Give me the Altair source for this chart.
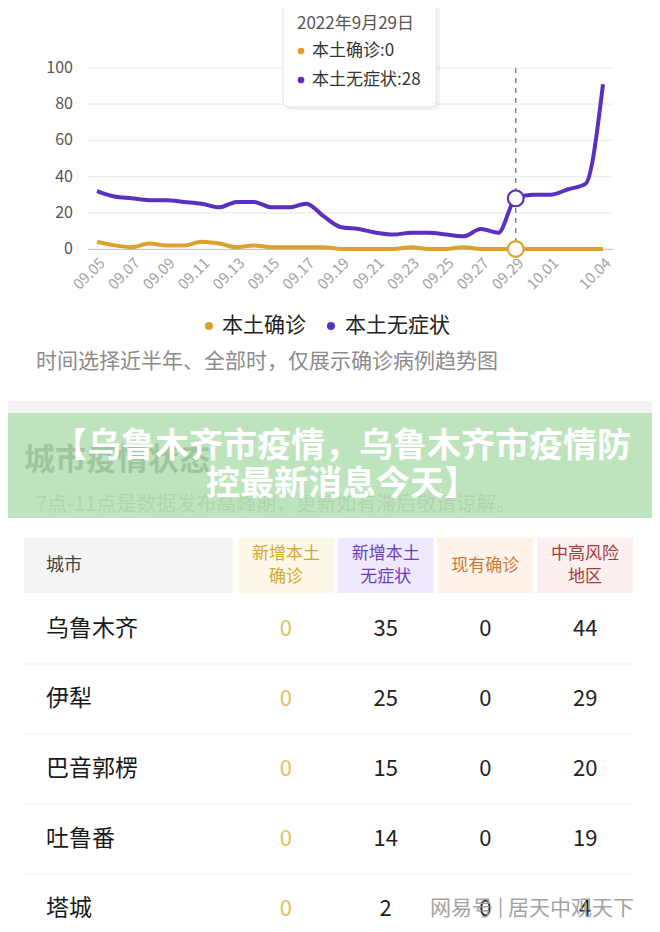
import altair as alt
import pandas as pd

# ------------------------------------------------------------------ data
dates = ["09.05", "09.06", "09.07", "09.08", "09.09", "09.10", "09.11", "09.12",
         "09.13", "09.14", "09.15", "09.16", "09.17", "09.18", "09.19", "09.20",
         "09.21", "09.22", "09.23", "09.24", "09.25", "09.26", "09.27", "09.28",
         "09.29", "09.30", "10.01", "10.02", "10.03", "10.04"]
confirmed = [4, 2, 1, 3, 2, 2, 4, 3, 1, 2, 1, 1, 1, 1, 0, 0, 0, 0, 1, 0,
             0, 1, 0, 0, 0, 0, 0, 0, 0, 0]
asymptomatic = [32, 29, 28, 27, 27, 26, 25, 23, 26, 26, 23, 23, 25, 18, 12, 11,
                9, 8, 9, 9, 8, 7, 11, 9, 28, 30, 30, 33, 36, 91]
series_names = ["本土确诊", "本土无症状"]
series_colors = ["#dca22c", "#5b2fc0"]
x_tick_labels = ["09.05", "09.07", "09.09", "09.11", "09.13", "09.15", "09.17",
                 "09.19", "09.21", "09.23", "09.25", "09.27", "09.29", "10.01", "10.04"]
y_ticks = [0, 20, 40, 60, 80, 100]
hover_date = "09.29"
tooltip_title = "2022年9月29日"
caption_text = "时间选择近半年、全部时，仅展示确诊病例趋势图"
section_title = "城市疫情状态"
section_note = "7点-11点是数据发布高峰期，更新如有滞后敬请谅解。"
banner_text = "【乌鲁木齐市疫情，乌鲁木齐市疫情防\n控最新消息今天】"
watermark_text = "网易号 | 居天中观天下"

city_header = "城市"
cities = ["乌鲁木齐", "伊犁", "巴音郭楞", "吐鲁番", "塔城"]
table_columns = ["新增本土确诊", "新增本土无症状", "现有确诊", "中高风险地区"]
header_labels = ["新增本土\n确诊", "新增本土\n无症状", "现有确诊", "中高风险\n地区"]
header_text_colors = ["#d4a82f", "#6b3fbf", "#c77a3c", "#a33b3f"]
header_bg_colors = ["#fdf8e8", "#f0e8fc", "#fdf3ea", "#fcefef"]
new_confirmed = [0, 0, 0, 0, 0]
new_asymptomatic = [35, 25, 15, 14, 2]
current_confirmed = [0, 0, 0, 0, 0]
risk_areas = [44, 29, 20, 19, 4]

FONT = "Noto Sans CJK SC"
OX, OY = 88, 68          # page position of the plot origin
W, H = 524, 181


def px(x):
    return x - OX


def py(y):
    return y - OY


def one():
    return pd.DataFrame({"k": [0]})


def rect(x, x2, y, y2, **kw):
    return alt.Chart(one()).mark_rect(**kw).encode(
        x=alt.value(px(x)), x2=alt.value(px(x2)), y=alt.value(py(y)), y2=alt.value(py(y2)))


def label(txt, x, y, **kw):
    kw.setdefault("font", FONT)
    kw.setdefault("baseline", "middle")
    return alt.Chart(pd.DataFrame({"t": [txt]})).mark_text(**kw).encode(
        x=alt.value(px(x)), y=alt.value(py(y)), text="t:N")


def dot(x, y, color, size=55):
    return alt.Chart(one()).mark_point(shape="circle", filled=True, size=size,
                                        color=color, opacity=1).encode(
        x=alt.value(px(x)), y=alt.value(py(y)))


# ------------------------------------------------------------------ line chart
line_df = pd.DataFrame({
    "date": dates * 2,
    "value": confirmed + asymptomatic,
    "series": [series_names[0]] * len(dates) + [series_names[1]] * len(dates),
})
tick_df = pd.DataFrame({"tick": y_ticks, "tick_label": [str(t) for t in y_ticks]})

x_scale = alt.Scale(type="point", padding=0.516)
y_scale = alt.Scale(domain=[0, 100], nice=False)
xenc = alt.X("date:O", sort=dates, scale=x_scale,
             axis=alt.Axis(values=x_tick_labels, labelAngle=315, labelColor="#a3a3a3",
                           labelFontSize=15, labelFont=FONT, labelPadding=6,
                           ticks=False, domainColor="#a0a0a0", domainWidth=1.2,
                           grid=False, title=None, labelOverlap=False))
colenc = alt.Color("series:N", scale=alt.Scale(domain=series_names, range=series_colors),
                   legend=None)

grid = alt.Chart(tick_df).mark_rule(color="#ebebeb", strokeWidth=1.2).encode(
    y=alt.Y("tick:Q", scale=y_scale, axis=None),
    x=alt.value(0), x2=alt.value(W))
y_labels = alt.Chart(tick_df).mark_text(
    font=FONT, fontSize=16, color="#555555", align="right", baseline="middle").encode(
    y=alt.Y("tick:Q", scale=y_scale, axis=None),
    x=alt.value(-15), text="tick_label:N")
lines = alt.Chart(line_df).mark_line(interpolate="monotone", strokeWidth=4).encode(
    x=xenc, y=alt.Y("value:Q", scale=y_scale, axis=None), color=colenc)
hover_rule = alt.Chart(pd.DataFrame({"date": [hover_date]})).mark_rule(
    strokeDash=[5, 5], color="#8c8c8c", strokeWidth=1.5).encode(
    x=alt.X("date:O", sort=dates),
    y=alt.value(0), y2=alt.value(H))
hover_pts = alt.Chart(line_df).transform_filter(
    alt.datum.date == hover_date).mark_point(
    shape="circle", fill="white", fillOpacity=1, opacity=1, size=250, strokeWidth=2.2).encode(
    x=alt.X("date:O", sort=dates),
    y=alt.Y("value:Q", scale=y_scale, axis=None),
    color=colenc)

chart_layer = alt.layer(grid, y_labels, lines, hover_rule, hover_pts)

# ------------------------------------------------------------------ tooltip, legend, caption
i_hover = dates.index(hover_date)
tooltip_parts = [
    rect(286, 440, -10, 110, fill="#000000", opacity=0.05, cornerRadius=6),
    rect(283, 436, -10, 107, fill="white", stroke="#e4e4e4", strokeWidth=1, cornerRadius=5),
    label(tooltip_title, 297, 24, align="left", fontSize=17, color="#555555"),
    dot(301, 51, series_colors[0], 45),
    label(f"{series_names[0]}:{confirmed[i_hover]}", 312, 51, align="left",
          fontSize=17, color="#333333"),
    dot(301, 80, series_colors[1], 45),
    label(f"{series_names[1]}:{asymptomatic[i_hover]}", 312, 80, align="left",
          fontSize=17, color="#333333"),
]

legend_parts = [
    dot(209, 326, series_colors[0], 65),
    label(series_names[0], 222, 326, align="left", fontSize=21, color="#222222"),
    dot(331, 326, series_colors[1], 65),
    label(series_names[1], 345, 326, align="left", fontSize=21, color="#222222"),
    label(caption_text, 36, 362, align="left", fontSize=21, color="#8c8c8c"),
]

banner_parts = [
    rect(0, 660, 401, 413, fill="#f3f3f3"),
    label(section_title, 24, 461, align="left", fontSize=31, fontWeight="bold", color="#333333"),
    label(section_note, 36, 505, align="left", fontSize=20, color="#999999"),
    rect(0, 660, 413, 518, fill="#b3dfb1", opacity=0.85),
    label(banner_text, 342, 447, align="center", fontSize=34, fontWeight="bold",
          color="white", lineBreak="\n", lineHeight=38),
]

# ------------------------------------------------------------------ table
rows = []
cols_vals = [new_confirmed, new_asymptomatic, current_confirmed, risk_areas]
for i, c in enumerate(cities):
    for j, col in enumerate(table_columns):
        rows.append({"city": c, "col": col, "val": str(cols_vals[j][i]),
                     "color": "#e2c158" if j == 0 else "#222222"})
table_df = pd.DataFrame(rows)
header_df = pd.DataFrame({"col": table_columns, "label": header_labels,
                          "fg": header_text_colors, "bg": header_bg_colors})
header_df["lines"] = header_df["label"].str.count("\n") + 1
city_df = pd.DataFrame({"city": cities})
sep_df = pd.DataFrame({"city": cities[1:]})

tx_scale = alt.Scale(type="band", domain=table_columns, range=[px(238), px(633)],
                     paddingInner=0.04, paddingOuter=0)
ty_scale = alt.Scale(type="point", domain=cities, range=[py(629), py(909)], padding=0)

header_bg = alt.Chart(header_df).mark_rect().encode(
    x=alt.X("col:N", sort=table_columns, scale=tx_scale, axis=None),
    y=alt.value(py(538)), y2=alt.value(py(593)),
    color=alt.Color("bg:N", scale=None))


def header_text(n_lines, y):
    return alt.Chart(header_df).transform_filter(
        alt.datum.lines == n_lines).mark_text(
        font=FONT, fontSize=17, lineBreak="\n", lineHeight=23, baseline="middle").encode(
        x=alt.X("col:N", sort=table_columns, scale=tx_scale, axis=None, bandPosition=0.5),
        y=alt.value(py(y)), text="label:N",
        color=alt.Color("fg:N", scale=None))


city_hdr = [
    rect(24, 233, 538, 593, fill="#f5f5f5"),
    label(city_header, 46, 566, align="left", fontSize=18, color="#444444"),
]
seps = alt.Chart(sep_df).mark_rule(color="#f0f0f0", strokeWidth=1.2, yOffset=-35).encode(
    y=alt.Y("city:N", sort=cities, scale=ty_scale, axis=None),
    x=alt.value(px(24)), x2=alt.value(px(632)))
city_txt = alt.Chart(city_df).mark_text(
    font=FONT, fontSize=23, align="left", baseline="middle", color="#1a1a1a").encode(
    y=alt.Y("city:N", sort=cities, scale=ty_scale, axis=None),
    x=alt.value(px(46)), text="city:N")
val_txt = alt.Chart(table_df).mark_text(
    font=FONT, fontSize=22, baseline="middle").encode(
    x=alt.X("col:N", sort=table_columns, scale=tx_scale, axis=None, bandPosition=0.5),
    y=alt.Y("city:N", sort=cities, scale=ty_scale, axis=None),
    text="val:N", color=alt.Color("color:N", scale=None))

table_layer = alt.layer(*city_hdr, header_bg, header_text(2, 554), header_text(1, 566),
                        seps, city_txt, val_txt)

watermark = label(watermark_text, 430, 909, align="left", fontSize=21,
                  color="#9a9a9a", opacity=0.9)

chart = alt.layer(
    chart_layer, *tooltip_parts, *legend_parts, *banner_parts, table_layer, watermark
).resolve_scale(
    x="independent", y="independent", color="independent"
).properties(
    width=W, height=H,
    autosize=alt.AutoSizeParams(type="none"),
    padding={"left": OX - 8, "top": OY - 8, "right": 644 - (OX - 8) - W,
             "bottom": 910 - (OY - 8) - H},
    background="white",
).configure_view(stroke=None)

chart.save("out.html", embed_options={"renderer": "svg", "actions": False})
